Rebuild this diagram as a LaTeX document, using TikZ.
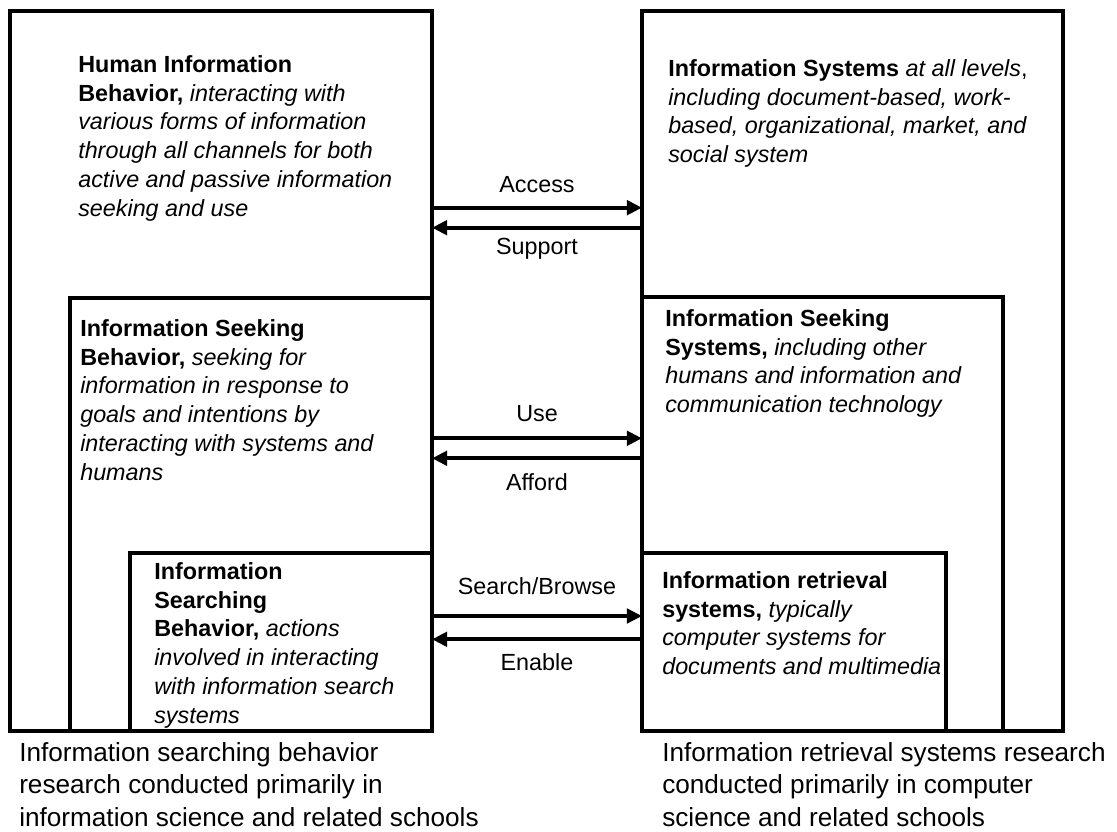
\documentclass[tikz,border=0pt]{standalone}
\usepackage{fontspec}
\setmainfont{Liberation Sans}
\usetikzlibrary{arrows.meta,fit}

\begin{document}
\begin{tikzpicture}[x=0.025cm, y=-0.025cm,
        box/.style={draw, line width=0.1cm, inner sep=0pt, outer sep=0pt},
        body/.style={anchor=north west, inner sep=0pt, align=left, font=\fontsize{16.6}{20.5}\selectfont},
        note/.style={anchor=north west, inner sep=0pt, align=left, font=\fontsize{18.6}{23.2}\selectfont},
        lbl/.style={inner sep=0pt, font=\fontsize{16.6}{20.5}\selectfont},
        arr/.style={line width=0.1cm, -{Triangle[length=0.38cm, width=0.36cm]}}]
        \useasboundingbox (0,0) rectangle (1117,832);

        \node[box, fit={(10,11) (432,731)}] (hib) {};
        \node[box, fit={(70,298) (432,731)}] (isb) {};
        \node[box, fit={(130,553) (432,731)}] (isrch) {};
        \node[box, fit={(642,11) (1063,731)}] (is) {};
        \node[box, fit={(642,297) (1003,731)}] (iss) {};
        \node[box, fit={(642,553) (946,731)}] (irs) {};

        \node[body] (hibtext) at (78,55) {\textbf{Human Information}\\
            \textbf{Behavior,} \textit{interacting with}\\
            \textit{various forms of information}\\
            \textit{through all channels for both}\\
            \textit{active and passive information}\\
            \textit{seeking and use}};
        \node[body] (istext) at (668,59) {\textbf{Information Systems} \textit{at all levels},\\
            \textit{including document-based, work-}\\
            \textit{based, organizational, market, and}\\
            \textit{social system}};
        \node[body] (isbtext) at (80,319) {\textbf{Information Seeking}\\
            \textbf{Behavior,} \textit{seeking for}\\
            \textit{information in response to}\\
            \textit{goals and intentions by}\\
            \textit{interacting with systems and}\\
            \textit{humans}};
        \node[body] (isstext) at (665,309) {\textbf{Information Seeking}\\
            \textbf{Systems,} \textit{including other}\\
            \textit{humans and information and}\\
            \textit{communication technology}};
        \node[body] (isrchtext) at (154,562) {\textbf{Information}\\
            \textbf{Searching}\\
            \textbf{Behavior,} \textit{actions}\\
            \textit{involved in interacting}\\
            \textit{with information search}\\
            \textit{systems}};
        \node[body] (irstext) at (662,571) {\textbf{Information retrieval}\\
            \textbf{systems,} \textit{typically}\\
            \textit{computer systems for}\\
            \textit{documents and multimedia}};

        \node[note] (leftnote) at (19,742) {Information searching behavior\\
            research conducted primarily in\\
            information science and related schools};
        \node[note] (rightnote) at (662,742) {Information retrieval systems research\\
            conducted primarily in computer\\
            science and related schools};

        \coordinate (acc) at (0,207.7);
        \coordinate (sup) at (0,227.7);
        \coordinate (use) at (0,438.3);
        \coordinate (aff) at (0,458.3);
        \coordinate (srch) at (0,616);
        \coordinate (enb) at (0,639.3);

        \draw[arr] (hib.east |- acc) -- (is.west |- acc) node[lbl, midway, above=0.32cm] {Access};
        \draw[arr] (is.west |- sup) -- (hib.east |- sup) node[lbl, midway, below=0.21cm] {Support};
        \draw[arr] (isb.east |- use) -- (iss.west |- use) node[lbl, midway, above=0.375cm] {Use};
        \draw[arr] (iss.west |- aff) -- (isb.east |- aff) node[lbl, midway, below=0.335cm] {Afford};
        \draw[arr] (isrch.east |- srch) -- (irs.west |- srch) node[lbl, midway, above=0.48cm] {Search/Browse};
        \draw[arr] (irs.west |- enb) -- (isrch.east |- enb) node[lbl, midway, below=0.31cm] {Enable};
    \end{tikzpicture}
\end{document}
